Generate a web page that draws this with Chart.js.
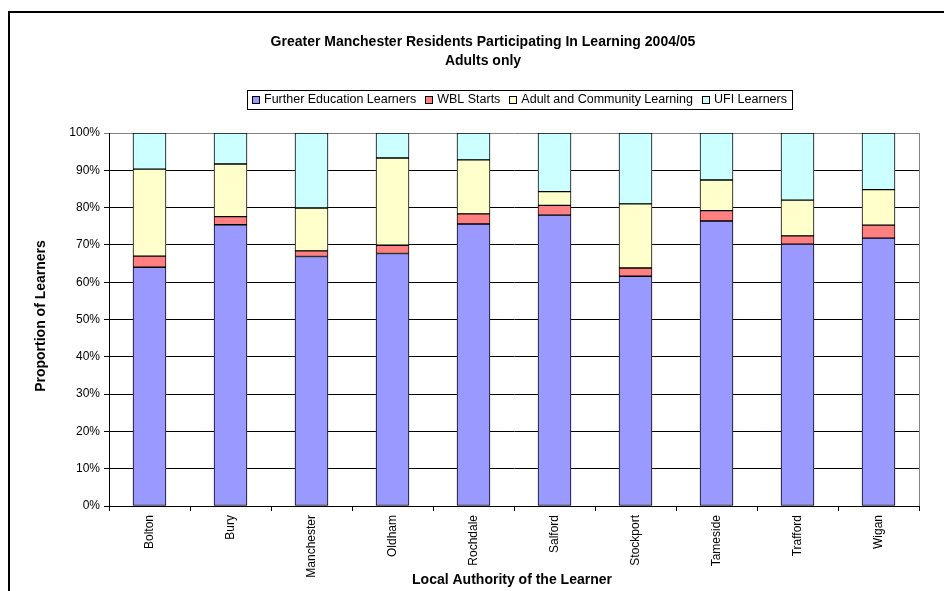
<!DOCTYPE html>
<html>
<head>
<meta charset="utf-8">
<script src="https://cdn.jsdelivr.net/npm/chart.js@4/dist/chart.umd.min.js"></script>
<style>
  html, body { margin: 0; padding: 0; background: #fff; }
  #wrap { width: 944px; height: 591px; }
</style>
</head>
<body>
<div id="wrap"><canvas id="c" width="944" height="591"></canvas></div>
<script>
// Local authorities and the share (%) of each learning route
const authorities = ["Bolton", "Bury", "Manchester", "Oldham", "Rochdale", "Salford", "Stockport", "Tameside", "Trafford", "Wigan"];
const furtherEducation = [64.0, 75.4, 66.9, 67.7, 75.6, 78.0, 61.6, 76.4, 70.2, 71.8];
const wblStarts        = [3.0, 2.2, 1.5, 2.2, 2.7, 2.6, 2.2, 2.8, 2.2, 3.5];
const adultCommunity   = [23.3, 14.1, 11.5, 23.4, 14.5, 3.7, 17.2, 8.2, 9.6, 9.5];
const ufiLearners      = [9.7, 8.3, 20.1, 6.7, 7.2, 15.7, 19.0, 12.6, 18.0, 15.2];
const yTicks = [0, 10, 20, 30, 40, 50, 60, 70, 80, 90, 100];

const titleLines = ["Greater Manchester Residents Participating In Learning 2004/05", "Adults only"];
const yTitle = "Proportion of Learners";
const xTitle = "Local Authority of the Learner";

const FONT = '"Liberation Sans", Arial, sans-serif';

function series(label, data, color) {
  return { label, data, backgroundColor: color, borderColor: '#000', borderWidth: 1, borderSkipped: false };
}

// Frame, titles and boxed legend drawn around the plot
const decorations = {
  id: 'decorations',
  afterDraw(chart) {
    const ctx = chart.ctx;
    const area = chart.chartArea;
    ctx.save();
    // outer frame
    ctx.fillStyle = '#000';
    ctx.fillRect(8, 11, 944, 2);
    ctx.fillRect(8, 11, 2, 600);

    // plot area border (right side)
    ctx.strokeStyle = '#808080';
    ctx.lineWidth = 1;
    ctx.beginPath();
    ctx.moveTo(Math.round(area.right) + 0.5, area.top);
    ctx.lineTo(Math.round(area.right) + 0.5, area.bottom);
    ctx.stroke();

    // main title
    ctx.fillStyle = '#000';
    ctx.font = 'bold 14px ' + FONT;
    ctx.textAlign = 'center';
    ctx.textBaseline = 'middle';
    ctx.fillText(titleLines[0], 483, 42);
    ctx.fillText(titleLines[1], 483, 61);

    // axis titles
    ctx.fillText(xTitle, (area.left + area.right) / 2 - 2, 580);
    ctx.save();
    ctx.translate(41, 316);
    ctx.rotate(-Math.PI / 2);
    ctx.fillText(yTitle, 0, 0);
    ctx.restore();

    // legend
    ctx.font = '12.5px ' + FONT;
    const sets = chart.data.datasets;
    const sw = 8, gapSwText = 4, gapItem = 9;
    let total = 0;
    const widths = sets.map(d => ctx.measureText(d.label).width);
    widths.forEach((w, i) => { total += sw + gapSwText + w + (i < sets.length - 1 ? gapItem : 0); });
    const padX = 5;
    const boxW = Math.round(total + padX * 2);
    const cx = 519;
    const boxL = Math.round(cx - boxW / 2);
    const boxT = 90, boxH = 19;
    ctx.strokeStyle = '#000';
    ctx.lineWidth = 1;
    ctx.fillStyle = '#fff';
    ctx.fillRect(boxL, boxT, boxW, boxH);
    ctx.strokeRect(boxL + 0.5, boxT + 0.5, boxW, boxH);
    let x = boxL + padX;
    const cy = boxT + boxH / 2 + 0.5;
    ctx.textAlign = 'left';
    sets.forEach((d, i) => {
      ctx.fillStyle = d.backgroundColor;
      ctx.fillRect(Math.round(x), Math.round(cy - sw / 2), sw, sw);
      ctx.strokeRect(Math.round(x) + 0.5, Math.round(cy - sw / 2) + 0.5, sw - 1, sw - 1);
      x += sw + gapSwText;
      ctx.fillStyle = '#000';
      ctx.fillText(d.label, x, cy);
      x += widths[i] + gapItem;
    });
    ctx.restore();
  }
};

new Chart(document.getElementById('c'), {
  type: 'bar',
  data: {
    labels: authorities,
    datasets: [
      series('Further Education Learners', furtherEducation, '#9999FF'),
      series('WBL Starts', wblStarts, '#FF8080'),
      series('Adult and Community Learning', adultCommunity, '#FFFFCC'),
      series('UFI Learners', ufiLearners, '#CCFFFF')
    ]
  },
  options: {
    responsive: false,
    animation: false,
    devicePixelRatio: 1,
    layout: { padding: { left: 0, top: 133, right: 25, bottom: 0 } },
    datasets: { bar: { barThickness: 33 } },
    plugins: {
      legend: { display: false },
      title: { display: false },
      tooltip: { enabled: false }
    },
    scales: {
      x: {
        stacked: true,
        offset: true,
        grid: { display: true, drawOnChartArea: false, drawTicks: true, tickLength: 5, color: '#000', offset: true },
        border: { display: true, color: '#000', width: 1 },
        ticks: {
          color: '#000',
          font: { family: FONT, size: 12 },
          minRotation: 90,
          maxRotation: 90,
          autoSkip: false,
          padding: 4
        },
        afterFit(scale) { scale.height = 85; }
      },
      y: {
        stacked: true,
        min: 0,
        max: 100,
        afterBuildTicks(scale) { scale.ticks = yTicks.map(v => ({ value: v })); },
        grid: {
          color: ctx => (ctx.tick && ctx.tick.value === 100) ? '#808080' : '#000',
          lineWidth: 1,
          tickLength: 5,
          drawTicks: true
        },
        border: { display: true, color: '#000', width: 1 },
        ticks: {
          color: '#000',
          font: { family: FONT, size: 12 },
          padding: 4,
          callback: v => v + '%'
        },
        afterFit(scale) { scale.width = 109; }
      }
    }
  },
  plugins: [decorations]
});
</script>
</body>
</html>
